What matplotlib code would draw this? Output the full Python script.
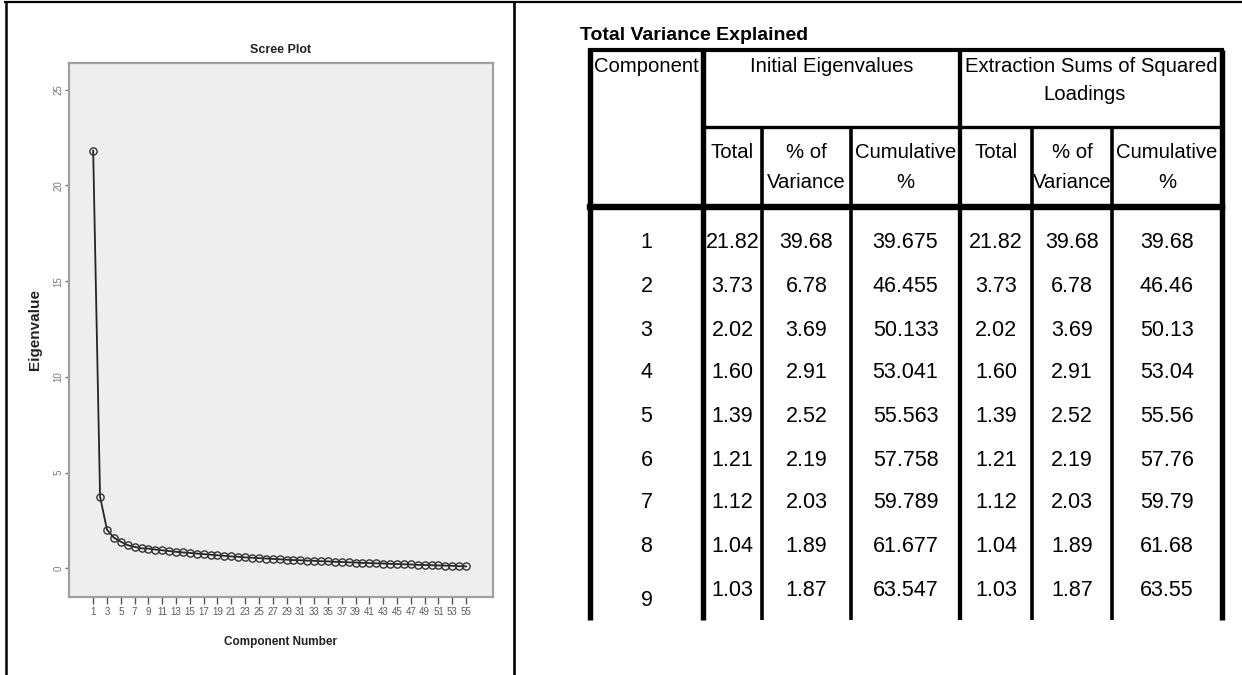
import matplotlib
matplotlib.use('Agg')
import matplotlib.pyplot as plt

plt.rcParams['font.family'] = ['Liberation Sans', 'DejaVu Sans']

# ============================================================
# data
# ============================================================
components = [1, 2, 3, 4, 5, 6, 7, 8, 9]
init_total = [21.82, 3.73, 2.02, 1.60, 1.39, 1.21, 1.12, 1.04, 1.03]
init_pct = [39.68, 6.78, 3.69, 2.91, 2.52, 2.19, 2.03, 1.89, 1.87]
init_cum = [39.675, 46.455, 50.133, 53.041, 55.563, 57.758, 59.789, 61.677, 63.547]
ext_total = [21.82, 3.73, 2.02, 1.60, 1.39, 1.21, 1.12, 1.04, 1.03]
ext_pct = [39.68, 6.78, 3.69, 2.91, 2.52, 2.19, 2.03, 1.89, 1.87]
ext_cum = [39.68, 46.46, 50.13, 53.04, 55.56, 57.76, 59.79, 61.68, 63.55]

# eigenvalues of components 10..55
tail_eigen = [0.98, 0.94, 0.90, 0.86, 0.83, 0.80, 0.77, 0.74, 0.71, 0.68,
              0.65, 0.62, 0.60, 0.57, 0.55, 0.53, 0.51, 0.49, 0.47, 0.45,
              0.43, 0.42, 0.40, 0.39, 0.37, 0.36, 0.34, 0.33, 0.31, 0.30,
              0.28, 0.27, 0.26, 0.25, 0.23, 0.22, 0.21, 0.20, 0.18, 0.17,
              0.16, 0.15, 0.14, 0.13, 0.11, 0.10]
eigenvalues = init_total + tail_eigen
comp_numbers = list(range(1, len(eigenvalues) + 1))
x_tick_values = list(range(1, 56, 2))
y_tick_values = [0, 5, 10, 15, 20, 25]

W, H = 1242, 675
fig = plt.figure(figsize=(W / 100, H / 100), dpi=100)

# canvas in pixel coordinates for frame + table
cv = fig.add_axes([0, 0, 1, 1])
cv.set_xlim(0, W)
cv.set_ylim(H, 0)
cv.axis('off')


def hline(y, x0, x1, lw):
    cv.plot([x0, x1], [y, y], color='black', lw=lw, solid_capstyle='projecting')


def vline(x, y0, y1, lw):
    cv.plot([x, x], [y0, y1], color='black', lw=lw, solid_capstyle='butt')


# outer frame of the page
hline(2, 5, W, 1.6)
vline(6, 2, H, 1.8)
vline(514, 2, H, 1.9)

# ============================================================
# table
# ============================================================
THICK = 3.9
THIN = 2.6
col_edges = [590, 703, 762, 851, 960, 1032, 1112, 1222]
top_y, group_y, head_y, end_y = 50, 127, 207, 620

hline(top_y, col_edges[0], col_edges[-1], 3.0)
hline(group_y, col_edges[1], col_edges[-1], 2.4)
hline(head_y, col_edges[0], col_edges[-1], 4.6)
vline(col_edges[0], top_y, end_y, THICK)
vline(col_edges[1], top_y, end_y, THICK)
vline(col_edges[2], group_y, end_y, THIN)
vline(col_edges[3], group_y, end_y, THIN)
vline(col_edges[4], top_y, end_y, 3.1)
vline(col_edges[5], group_y, end_y, THIN)
vline(col_edges[6], group_y, end_y, THIN)
vline(col_edges[7], top_y, end_y, THICK)

centers = [(a + b) / 2 for a, b in zip(col_edges[:-1], col_edges[1:])]
kw = dict(ha='center', va='center', fontsize=15.5, color='black')
hk = dict(ha='center', va='center', fontsize=14.6, color='black')

cv.text(580, 36, 'Total Variance Explained', ha='left', va='center',
        fontsize=14, fontweight='bold')
cv.text(centers[0], 67, 'Component', **hk)
cv.text((col_edges[1] + col_edges[4]) / 2, 67, 'Initial Eigenvalues', **hk)
cv.text((col_edges[4] + col_edges[7]) / 2, 67, 'Extraction Sums of Squared', **hk)
cv.text((col_edges[4] + col_edges[7]) / 2 - 6, 95, 'Loadings', **hk)
for k in (0, 3):
    cv.text(centers[1 + k], 152, 'Total', **hk)
    cv.text(centers[2 + k], 152, '% of', **hk)
    cv.text(centers[2 + k], 182, 'Variance', **hk)
    cv.text(centers[3 + k], 152, 'Cumulative', **hk)
    cv.text(centers[3 + k], 182, '%', **hk)

row_y = [243, 287, 330, 373, 417, 460, 503, 547, 590]
columns = [
    (init_total, '{:.2f}'), (init_pct, '{:.2f}'), (init_cum, '{:.3f}'),
    (ext_total, '{:.2f}'), (ext_pct, '{:.2f}'), (ext_cum, '{:.2f}'),
]
for i, comp in enumerate(components):
    y = row_y[i]
    cv.text(centers[0], y + (10 if i == len(components) - 1 else 0), str(comp), **kw)
    for j, (vals, fmt) in enumerate(columns):
        cv.text(centers[j + 1], y, fmt.format(vals[i]), **kw)

# ============================================================
# scree plot
# ============================================================
L, R, T, B = 69, 493, 63, 597
ax = fig.add_axes([L / W, 1 - B / H, (R - L) / W, (B - T) / H])
ax.set_facecolor('#eeeeee')
ax.plot(comp_numbers, eigenvalues, color='#262626', lw=1.3,
        marker='o', ms=5.2, mfc='none', mec='#333333', mew=1.0)
ax.set_xlim(-2.5, 58.9)
ax.set_ylim(-1.5, 26.4)
for s in ax.spines.values():
    s.set_color('#a0a0a0')
    s.set_linewidth(1.6)
ax.set_xticks(x_tick_values)
ax.set_xticklabels([str(v) for v in x_tick_values], fontsize=7, color='#5a5a5a')
ax.set_yticks(y_tick_values)
ax.set_yticklabels([str(v) for v in y_tick_values], fontsize=7, color='#7a7a7a',
                   rotation=90, va='center')
ax.tick_params(axis='x', length=5, width=1.0, color='#555555', pad=2)
ax.tick_params(axis='y', length=3, width=1.0, color='#777777', pad=1)
ax.set_title('Scree Plot', fontsize=9, fontweight='bold', color='#222222', pad=7)
ax.set_xlabel('Component Number', fontsize=8.5, fontweight='bold',
              color='#222222', labelpad=14)
ax.set_ylabel('Eigenvalue', fontsize=11, fontweight='bold', color='#222222',
              labelpad=8)

plt.savefig('out.png', dpi=100)
